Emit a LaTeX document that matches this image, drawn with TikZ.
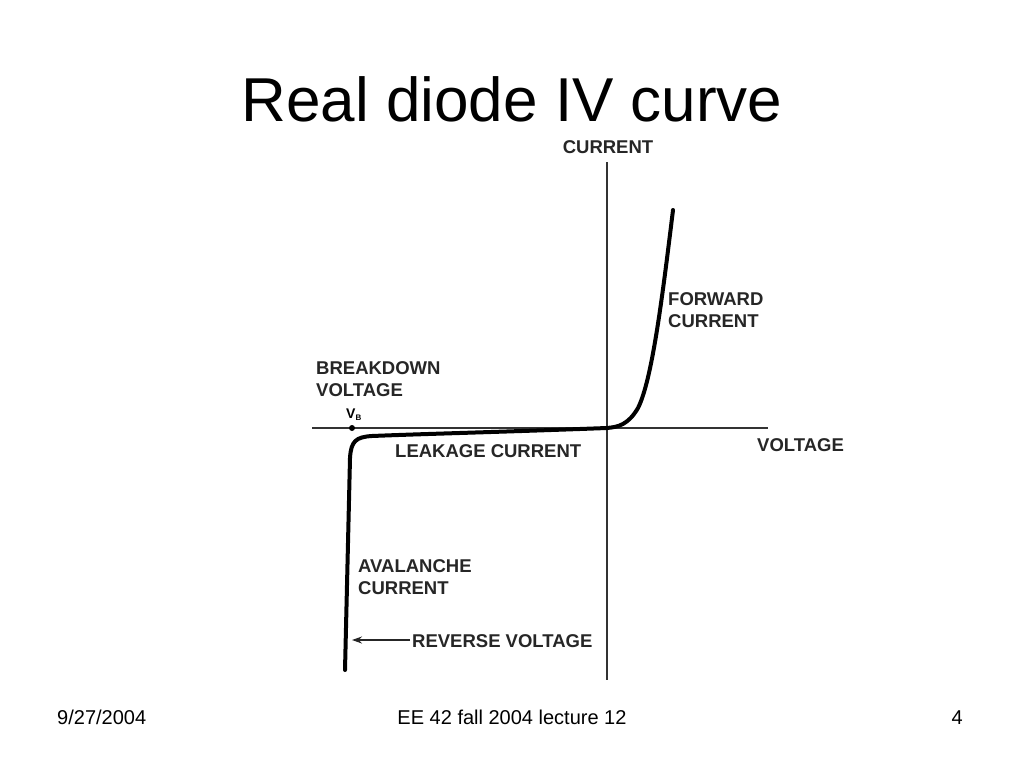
\documentclass[tikz,border=0pt]{standalone}
\usepackage{fontspec}
\setmainfont{Liberation Sans}
\usetikzlibrary{arrows.meta}
\begin{document}
\begin{tikzpicture}[x=1pt,y=-1pt,
  lbl/.style={font=\fontsize{18.5}{22}\selectfont\bfseries, inner sep=0pt, align=left, text=black!85},
  foot/.style={font=\fontsize{20}{24}\selectfont, inner sep=0pt},
  axis/.style={line width=1.4pt, black!80},
  ivcurve/.style={line width=4pt, black, line cap=round, line join=round}]
\useasboundingbox (0,0) rectangle (1024,768);
\fill[white] (0,0) rectangle (1024,768);
% title
\node[font=\fontsize{62}{70}\selectfont, inner sep=0pt, anchor=base] (title) at (512,121) {Real diode IV curve};
% axes
\coordinate (ytop) at (607,162);
\coordinate (ybot) at (607,680);
\coordinate (xleft) at (312,428);
\coordinate (xright) at (768,428);
\draw[axis] (ytop) -- (ybot);
\draw[axis] (xleft) -- (xright);
% curve
\draw[ivcurve] (673,210) .. controls (662,300) and (652,380) .. (638,408)
  .. controls (628,425) and (618,427) .. (607,428)
  .. controls (500,432) and (420,434) .. (372,436)
  .. controls (356,437) and (351,441) .. (350,458)
  -- (345,670);
% V_B dot
\node[circle, fill=black, inner sep=0pt, minimum size=6pt] (vb) at (352,428) {};
\node[font=\fontsize{14}{16}\selectfont\bfseries, inner sep=0pt, anchor=south] (vblabel) at (354,421) {V\textsubscript{\fontsize{8}{9}\selectfont B}};
% labels
\node[lbl, anchor=base] (cur) at (608,153) {CURRENT};
\node[lbl, anchor=north west] (fwd) at (668,292) {FORWARD\\CURRENT};
\node[lbl, anchor=north west] (bd) at (316,361) {BREAKDOWN\\VOLTAGE};
\node[lbl, anchor=base west] (leak) at (395,457) {LEAKAGE CURRENT};
\node[lbl, anchor=base west] (volt) at (757,451) {VOLTAGE};
\node[lbl, anchor=north west] (aval) at (358,559) {AVALANCHE\\CURRENT};
\node[lbl, anchor=base west] (rev) at (412,647) {REVERSE VOLTAGE};
\coordinate (revend) at (352,640);
\draw[line width=2.4pt, black!85, -{Stealth[length=10pt,width=7pt]}] (rev.west |- revend) ++(-2,0) -- (revend);
% footer
\node[foot, anchor=base west] (date) at (57,724) {9/27/2004};
\node[foot, anchor=base] (course) at (512,724) {EE 42 fall 2004 lecture 12};
\node[foot, anchor=base east] (page) at (963,724) {4};
\end{tikzpicture}
\end{document}
